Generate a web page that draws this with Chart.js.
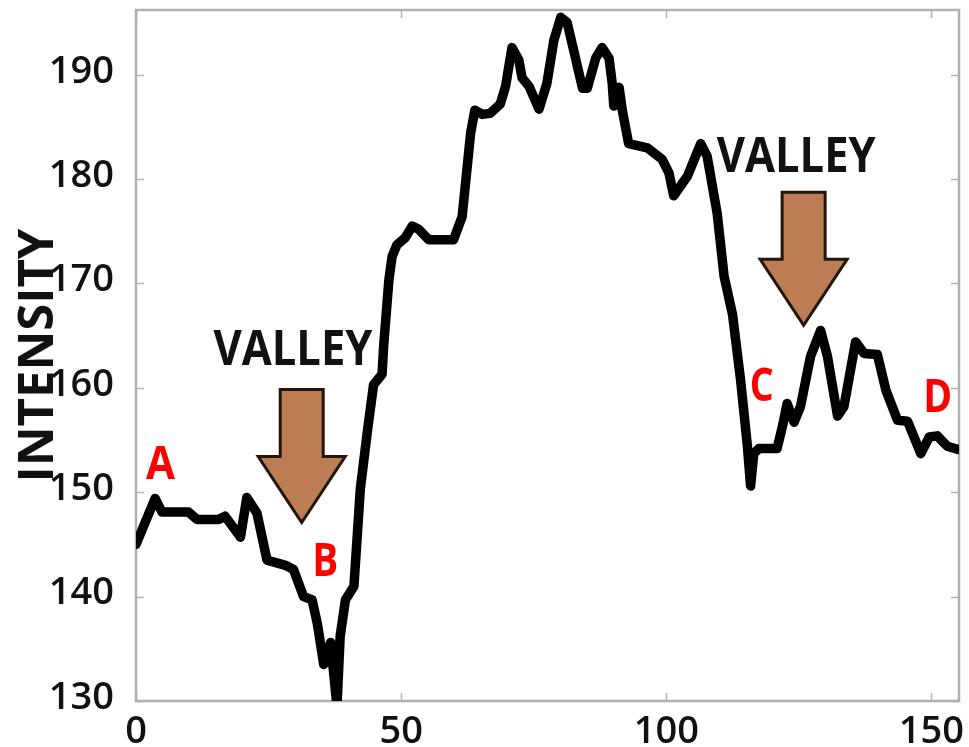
<!DOCTYPE html>
<html>
<head>
<meta charset="utf-8">
<script src="https://cdn.jsdelivr.net/npm/chart.js@4.4.1/dist/chart.umd.min.js"></script>
<style>
html,body{margin:0;padding:0;background:#fff;}
#wrap{width:969px;height:747px;position:relative;}
</style>
</head>
<body>
<div id="wrap"><canvas id="c"></canvas></div>
<script>
// ---- data ----
const sampleIndex = [0, 3.6, 4.9, 9.9, 11.5, 15.6, 16.8, 19.7, 20.9, 22.8, 24.7, 28.2, 29.7, 31.6, 33.2, 34.2, 35.4, 36.7, 37.9, 38.5, 39.5, 41.1, 42.3, 43.6, 44.8, 46.4, 46.7, 47.7, 48.3, 49.2, 50.8, 52.1, 53.3, 55.2, 59.9, 61.5, 63.1, 63.9, 65.3, 66.8, 68.7, 69.7, 70.9, 72.2, 72.8, 74.1, 76.0, 77.5, 78.8, 80.1, 81.3, 82.6, 84.2, 85.1, 86.7, 87.9, 89.2, 89.8, 90.1, 91.1, 91.7, 92.9, 96.4, 99.2, 100.5, 101.4, 104.0, 106.5, 107.7, 109.6, 110.9, 112.5, 114.0, 115.3, 115.9, 116.5, 117.5, 120.9, 121.9, 122.8, 124.1, 125.3, 127.2, 129.1, 130.4, 132.3, 133.5, 135.7, 137.3, 139.8, 141.4, 143.6, 145.5, 148.0, 149.6, 151.1, 153.0, 155.0];
const intensity   = [145.0, 149.4, 148.1, 148.1, 147.4, 147.4, 147.7, 145.7, 149.5, 148.0, 143.5, 143.0, 142.6, 140.0, 139.7, 137.4, 133.5, 135.6, 129.5, 136.2, 139.7, 141.0, 150.3, 155.7, 160.3, 161.3, 164.0, 170.4, 172.6, 173.7, 174.4, 175.5, 175.2, 174.2, 174.2, 176.4, 184.4, 186.6, 186.2, 186.3, 187.2, 188.9, 192.6, 191.4, 189.7, 188.9, 186.7, 189.2, 193.3, 195.5, 195.0, 192.2, 188.7, 188.7, 191.6, 192.6, 191.6, 189.2, 187.0, 188.8, 186.6, 183.4, 183.0, 181.9, 180.6, 178.4, 180.3, 183.4, 182.2, 176.7, 170.7, 167.0, 160.8, 154.4, 150.6, 153.7, 154.2, 154.2, 156.3, 158.5, 156.7, 158.2, 163.0, 165.5, 163.0, 157.3, 158.2, 164.4, 163.3, 163.2, 159.8, 156.9, 156.8, 153.7, 155.3, 155.4, 154.4, 154.1];
const xTickValues = [0, 50, 100, 150];
const yTickValues = [130, 140, 150, 160, 170, 180, 190];
const yAxisTitle = 'INTENSITY';
const valleyText = 'VALLEY';
const pointLetters = ['A', 'B', 'C', 'D'];

// ---- annotation placement (data coordinates) ----
const valleyNotes = [
  {textX: 29.6, textY: 162.2, tipX: 31.25, tipY: 147.1},
  {textX: 124.5, textY: 180.7, tipX: 125.9, tipY: 166.0}
];
const letterSpots = [
  {x: 4.6, y: 151.3, w: 29},
  {x: 35.7, y: 142.0, w: 26},
  {x: 118.0, y: 158.7, w: 24},
  {x: 151.2, y: 157.7, w: 29}
];

const points = sampleIndex.map((x, i) => ({x: x, y: intensity[i]}));

const decor = {
  id: 'decor',
  beforeDatasetsDraw(chart) {
    const {ctx, chartArea: a, scales: {x, y}} = chart;
    ctx.save();
    ctx.strokeStyle = '#b3b3b3';
    ctx.lineWidth = 1.5;
    y.ticks.forEach(t => {
      const p = Math.round(y.getPixelForValue(t.value)) + 0.5;
      ctx.beginPath();
      ctx.moveTo(a.left, p); ctx.lineTo(a.left + 8, p);
      ctx.moveTo(a.right - 8, p); ctx.lineTo(a.right, p);
      ctx.stroke();
    });
    x.ticks.forEach(t => {
      const p = Math.round(x.getPixelForValue(t.value)) + 0.5;
      ctx.beginPath();
      ctx.moveTo(p, a.bottom); ctx.lineTo(p, a.bottom - 8);
      ctx.moveTo(p, a.top); ctx.lineTo(p, a.top + 8);
      ctx.stroke();
    });
    ctx.lineWidth = 2.5;
    ctx.strokeStyle = '#b0b0b0';
    ctx.strokeRect(a.left, a.top, a.right - a.left, a.bottom - a.top);
    ctx.restore();
  },
  afterDatasetsDraw(chart) {
    const {ctx, scales: {x, y}} = chart;
    ctx.save();
    valleyNotes.forEach(n => {
      const tx = x.getPixelForValue(n.tipX), ty = y.getPixelForValue(n.tipY);
      const sw = 21.5, hw = 43.5, hl = 66, len = 133;
      ctx.beginPath();
      ctx.moveTo(tx - sw, ty - len);
      ctx.lineTo(tx + sw, ty - len);
      ctx.lineTo(tx + sw, ty - hl);
      ctx.lineTo(tx + hw, ty - hl);
      ctx.lineTo(tx, ty);
      ctx.lineTo(tx - hw, ty - hl);
      ctx.lineTo(tx - sw, ty - hl);
      ctx.closePath();
      ctx.fillStyle = '#bd7d54';
      ctx.fill();
      ctx.lineWidth = 3;
      ctx.lineJoin = 'miter';
      ctx.strokeStyle = '#24150b';
      ctx.stroke();

      ctx.fillStyle = '#111';
      ctx.font = "bold 49px 'Open Sans'";
      ctx.textAlign = 'center';
      ctx.textBaseline = 'alphabetic';
      ctx.fillText(valleyText, x.getPixelForValue(n.textX), y.getPixelForValue(n.textY), 159);
    });
    ctx.fillStyle = '#ff0000';
    ctx.font = "bold 47px 'Open Sans'";
    ctx.textAlign = 'center';
    ctx.textBaseline = 'alphabetic';
    letterSpots.forEach((s, i) => {
      ctx.fillText(pointLetters[i], x.getPixelForValue(s.x), y.getPixelForValue(s.y), s.w);
    });
    ctx.restore();
  }
};

new Chart(document.getElementById('c'), {
  type: 'line',
  data: {
    datasets: [{
      data: points,
      borderColor: '#000',
      borderWidth: 9.5,
      borderJoinStyle: 'round',
      borderCapStyle: 'round',
      pointRadius: 0,
      tension: 0,
      fill: false,
      clip: 0
    }]
  },
  options: {
    responsive: true,
    maintainAspectRatio: false,
    animation: false,
    layout: {padding: {top: 10, right: 10, left: 0, bottom: 0}},
    plugins: {legend: {display: false}, tooltip: {enabled: false}},
    scales: {
      x: {
        type: 'linear',
        min: 0, max: 155.2,
        grid: {display: false},
        border: {display: false},
        afterBuildTicks: s => { s.ticks = xTickValues.map(v => ({value: v})); },
        ticks: {
          color: '#111',
          font: {family: 'Open Sans', size: 38, weight: '600'},
          padding: 0,
          maxRotation: 0,
          autoSkip: false
        },
        afterFit: s => { s.height = 46; s.paddingLeft = 0; s.paddingRight = 0; }
      },
      y: {
        type: 'linear',
        min: 130, max: 196.2,
        grid: {display: false},
        border: {display: false},
        afterBuildTicks: s => { s.ticks = yTickValues.map(v => ({value: v})); },
        ticks: {
          color: '#111',
          font: {family: 'Open Sans', size: 38, weight: '600'},
          padding: 14,
          labelOffset: -3,
          autoSkip: false
        },
        title: {
          display: true,
          text: yAxisTitle,
          color: '#111',
          font: {family: 'Open Sans', size: 49, weight: 'bold'},
          padding: {top: 10, bottom: 0}
        },
        afterFit: s => { s.width = 136; s.paddingTop = 0; s.paddingBottom = 0; }
      }
    }
  },
  plugins: [decor]
});
</script>
</body>
</html>
